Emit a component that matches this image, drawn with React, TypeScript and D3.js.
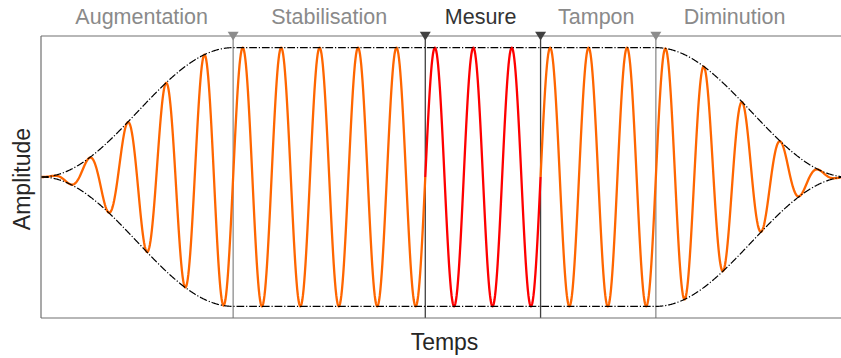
import React from "react";
import * as d3 from "d3";

// Phases of the signal (time unit = one carrier period)
const phaseNames = ["Augmentation", "Stabilisation", "Mesure", "Tampon", "Diminution"];
const phaseBounds = [0, 5, 10, 13, 16, 21];
const phaseLabelPos = [2.62, 7.5, 11.44, 14.45, 18.05];
const phaseLabelColors = ["#8a8a8a", "#8a8a8a", "#333333", "#8a8a8a", "#8a8a8a"];
const markerTimes = [5, 10, 13, 16];
const markerColors = ["#8c8c8c", "#404040", "#404040", "#8c8c8c"];
const segmentColors = ["#ff6600", "#ff6600", "#ff0000", "#ff6600", "#ff6600"];
const carrierCycles = 1; // cycles per time unit
const samplesPerUnit = 60;

const W = 841;
const H = 358;
const left = 41;
const right = 848;
const top = 36;
const bottom = 318;

function envelope(t: number): number {
  const rampUp = phaseBounds[1] - phaseBounds[0];
  const rampDownStart = phaseBounds[4];
  const rampDown = phaseBounds[5] - phaseBounds[4];
  if (t < phaseBounds[1]) return (1 - Math.cos((Math.PI * (t - phaseBounds[0])) / rampUp)) / 2;
  if (t <= rampDownStart) return 1;
  return (1 + Math.cos((Math.PI * (t - rampDownStart)) / rampDown)) / 2;
}

export default function App() {
  const x = d3.scaleLinear().domain([phaseBounds[0], phaseBounds[5]]).range([left, right]);
  const y = d3.scaleLinear().domain([-1.09, 1.09]).range([bottom, top]);

  const line = d3
    .line<[number, number]>()
    .x((d) => x(d[0]))
    .y((d) => y(d[1]));

  const segments = phaseNames.map((_, i) => {
    const a = phaseBounds[i];
    const b = phaseBounds[i + 1];
    const n = Math.round((b - a) * samplesPerUnit);
    const pts: [number, number][] = [];
    for (let k = 0; k <= n; k++) {
      const t = a + ((b - a) * k) / n;
      pts.push([t, envelope(t) * Math.sin(2 * Math.PI * carrierCycles * t)]);
    }
    return { d: line(pts) as string, color: segmentColors[i] };
  });

  const nEnv = (phaseBounds[5] - phaseBounds[0]) * samplesPerUnit;
  const envUp: [number, number][] = [];
  const envDown: [number, number][] = [];
  for (let k = 0; k <= nEnv; k++) {
    const t = phaseBounds[0] + ((phaseBounds[5] - phaseBounds[0]) * k) / nEnv;
    envUp.push([t, envelope(t)]);
    envDown.push([t, -envelope(t)]);
  }

  const tri = (cx: number, cy: number) =>
    `M${cx - 5.5},${cy - 4.3} L${cx + 5.5},${cy - 4.3} L${cx},${cy + 4.5} Z`;

  const font = "'Liberation Sans', Arial, Helvetica, sans-serif";

  return (
    <svg
      width={W}
      height={H}
      style={{ position: "absolute", left: 0, top: 0, background: "#fff" }}
    >
      <defs>
        <clipPath id="plotclip">
          <rect x={left} y={0} width={W - left} height={H} />
        </clipPath>
      </defs>
      {/* phase separators */}
      {markerTimes.map((t, i) => (
        <line
          key={"v" + i}
          x1={x(t)}
          x2={x(t)}
          y1={top}
          y2={bottom}
          stroke={markerColors[i]}
          strokeWidth={1.3}
        />
      ))}
      <g clipPath="url(#plotclip)">
        {segments.map((s, i) => (
          <path key={"s" + i} d={s.d} fill="none" stroke={s.color} strokeWidth={2.3} strokeLinejoin="round" />
        ))}
        <path
          d={line(envUp) as string}
          fill="none"
          stroke="#000"
          strokeWidth={1.2}
          strokeDasharray="7.7,1.9,1.2,1.9"
        />
        <path
          d={line(envDown) as string}
          fill="none"
          stroke="#000"
          strokeWidth={1.2}
          strokeDasharray="7.7,1.9,1.2,1.9"
        />
      </g>
      {/* spines */}
      <line x1={left} x2={W} y1={top} y2={top} stroke="#707070" strokeWidth={1.2} />
      <line x1={left} x2={W} y1={bottom} y2={bottom} stroke="#707070" strokeWidth={1.2} />
      <line x1={left} x2={left} y1={top} y2={bottom} stroke="#707070" strokeWidth={1.2} />
      {/* markers */}
      {markerTimes.map((t, i) => (
        <path key={"m" + i} d={tri(x(t), top)} fill={markerColors[i]} />
      ))}
      {/* phase labels */}
      {phaseNames.map((name, i) => (
        <text
          key={"l" + i}
          x={x(phaseLabelPos[i])}
          y={24}
          textAnchor="middle"
          fontFamily={font}
          fontSize={21.5}
          fill={phaseLabelColors[i]}
        >
          {name}
        </text>
      ))}
      <text
        x={(left + right) / 2}
        y={350}
        textAnchor="middle"
        fontFamily={font}
        fontSize={23}
        fill="#262626"
      >
        Temps
      </text>
      <text
        transform={`translate(29.5,${179}) rotate(-90)`}
        textAnchor="middle"
        fontFamily={font}
        fontSize={23}
        fill="#262626"
      >
        Amplitude
      </text>
    </svg>
  );
}
